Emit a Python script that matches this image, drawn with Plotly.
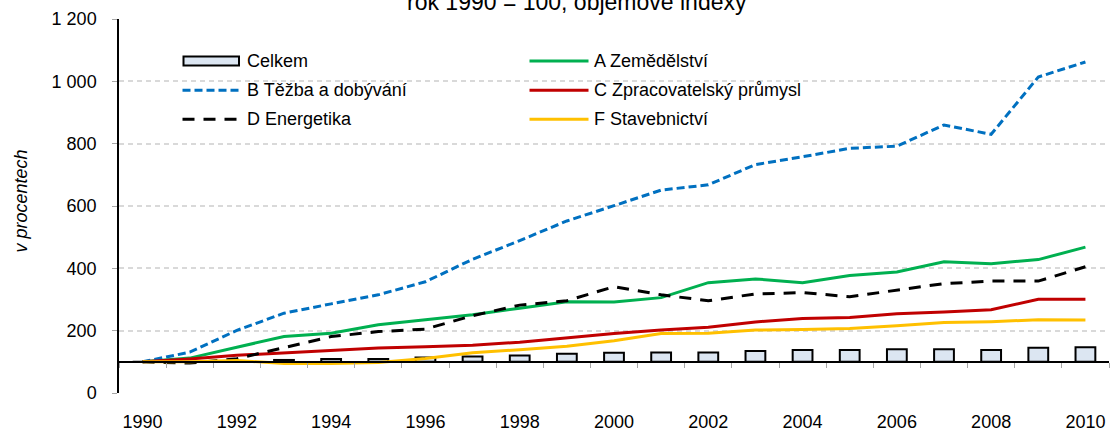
import plotly.graph_objects as go

# ---------------- data ----------------
years = list(range(1990, 2011))
celkem = [100, 100, 101, 106, 109, 109, 114, 117, 120, 126, 129, 130, 130, 135, 138, 138, 140, 140, 138, 145, 147]
a_zemedelstvi = [100, 112, 147, 181, 192, 219, 235, 251, 272, 293, 292, 306, 354, 366, 354, 377, 388, 421, 415, 428, 468]
b_tezba = [100, 131, 201, 256, 286, 315, 357, 429, 489, 552, 601, 651, 668, 733, 758, 785, 792, 860, 830, 1014, 1062]
c_zpracovatelsky = [100, 109, 121, 128, 136, 144, 148, 153, 163, 178, 191, 202, 211, 228, 239, 242, 254, 260, 267, 301, 301]
d_energetika = [100, 96, 110, 146, 181, 197, 205, 248, 282, 296, 341, 315, 296, 318, 322, 309, 331, 351, 359, 359, 405]
f_stavebnictvi = [100, 100, 104, 95, 95, 98, 111, 129, 139, 150, 168, 191, 192, 202, 204, 207, 216, 226, 229, 235, 234]

base_value = 100
x_tick_years = list(range(1990, 2011, 2))
y_tick_vals = [0, 200, 400, 600, 800, 1000, 1200]
y_tick_text = ["0", "200", "400", "600", "800", "1 000", "1 200"]

title_text = "rok 1990 = 100, objemové indexy"
y_title = "v procentech"

# ---------------- styles ----------------
FONT = "Liberation Sans, Arial, sans-serif"
W, H = 1110, 436
L, R, T, B = 119, 1, 19, 43
PW, PH = W - L - R, H - T - B

def px_x(X):
    return (X - L) / PW

def px_y(Y):
    return (T + PH - Y) / PH

BAR_FILL = "#DCE6F2"
GREEN = "#00B050"
BLUE = "#0070C0"
RED = "#C00000"
BLACK = "#000000"
YELLOW = "#FFC000"

line_series = [
    ("A Zemědělství", a_zemedelstvi, dict(color=GREEN, width=3)),
    ("B Těžba a dobývání", b_tezba, dict(color=BLUE, width=3, dash="8px,4px")),
    ("C Zpracovatelský průmysl", c_zpracovatelsky, dict(color=RED, width=3)),
    ("D Energetika", d_energetika, dict(color=BLACK, width=3, dash="12px,9px")),
    ("F Stavebnictví", f_stavebnictvi, dict(color=YELLOW, width=3)),
]

fig = go.Figure()

fig.add_trace(go.Bar(
    x=years,
    y=[v - base_value for v in celkem],
    base=base_value,
    name="Celkem",
    width=0.42,
    marker=dict(color=BAR_FILL, line=dict(color=BLACK, width=2)),
    customdata=celkem,
    hovertemplate="%{x}: %{customdata}<extra>Celkem</extra>",
    showlegend=False,
    xaxis="x",
    yaxis="y",
))

for name, vals, ln in line_series:
    fig.add_trace(go.Scatter(
        x=years, y=vals, name=name, mode="lines",
        line=ln, showlegend=False, xaxis="x2", yaxis="y",
    ))

xrange = [1989.5, 2010.5]

fig.update_layout(
    width=W, height=H,
    margin=dict(l=L, r=R, t=T, b=B, autoexpand=False),
    paper_bgcolor="white", plot_bgcolor="white",
    font=dict(family=FONT, size=18, color="black"),
    xaxis=dict(
        range=xrange, tickvals=x_tick_years, ticks="", showline=False,
        showgrid=False, zeroline=False, ticklabelstandoff=16,
        tickfont=dict(size=18, color="black"),
    ),
    xaxis2=dict(
        range=xrange, overlaying="x", anchor="free", position=base_value / 1200,
        showline=True, linecolor=BLACK, linewidth=1.5,
        ticks="outside", ticklen=5, tickcolor="#A6A6A6", tickwidth=1,
        tickvals=[y + 0.5 for y in range(1989, 2011)],
        showticklabels=False, showgrid=False, zeroline=False,
    ),
    yaxis=dict(
        range=[0, 1200], tickvals=y_tick_vals, ticktext=y_tick_text,
        showline=True, linecolor=BLACK, linewidth=1.5,
        ticks="outside", ticklen=5, tickcolor="#A6A6A6", tickwidth=1,
        ticklabelstandoff=12,
        showgrid=True, gridcolor="#D9D9D9", griddash="5px,4px", gridwidth=1.5,
        zeroline=False, tickfont=dict(size=18, color="black"),
    ),
)

shapes = []
annotations = []

# legend background
shapes.append(dict(type="rect", xref="paper", yref="paper",
                   x0=px_x(145), x1=px_x(842), y0=px_y(136), y1=px_y(38),
                   fillcolor="white", line=dict(width=0), layer="between"))

legend_items = [
    ("Celkem", "bar", None),
    ("A Zemědělství", "line", line_series[0][2]),
    ("B Těžba a dobývání", "line", line_series[1][2]),
    ("C Zpracovatelský průmysl", "line", line_series[2][2]),
    ("D Energetika", "line", line_series[3][2]),
    ("F Stavebnictví", "line", line_series[4][2]),
]
col_sym = [(182.5, 240), (529.5, 588.5)]
col_text = [245, 592]
row_y = [61, 90.3, 119.3]

for i, (label, kind, ln) in enumerate(legend_items):
    c, r = i % 2, i // 2
    xs0, xs1 = col_sym[c]
    yy = row_y[r]
    if kind == "bar":
        shapes.append(dict(type="rect", xref="paper", yref="paper",
                           x0=px_x(xs0 + 1), x1=px_x(xs1 - 1),
                           y0=px_y(yy + 4.5), y1=px_y(yy - 4.5),
                           fillcolor=BAR_FILL, line=dict(color=BLACK, width=2),
                           layer="above"))
    else:
        shapes.append(dict(type="line", xref="paper", yref="paper",
                           x0=px_x(xs0), x1=px_x(xs1), y0=px_y(yy), y1=px_y(yy),
                           line=ln, layer="above"))
    annotations.append(dict(text=label, xref="paper", yref="paper",
                            x=px_x(col_text[c]), y=px_y(yy),
                            xanchor="left", yanchor="middle", showarrow=False,
                            font=dict(size=18, color="black")))

annotations.append(dict(text=title_text, xref="paper", yref="paper",
                        x=px_x(577), y=px_y(2), xanchor="center", yanchor="middle",
                        showarrow=False, font=dict(size=23, color="black")))
annotations.append(dict(text="<i>" + y_title + "</i>", xref="paper", yref="paper",
                        x=px_x(21), y=px_y(201.5), xanchor="center", yanchor="middle",
                        textangle=-90, showarrow=False,
                        font=dict(size=18, color="black")))

fig.update_layout(shapes=shapes, annotations=annotations)

fig.write_html(
    "out.html",
    config={"displayModeBar": False},
    post_script="document.body.style.margin='0px';document.body.style.padding='0px';",
)
